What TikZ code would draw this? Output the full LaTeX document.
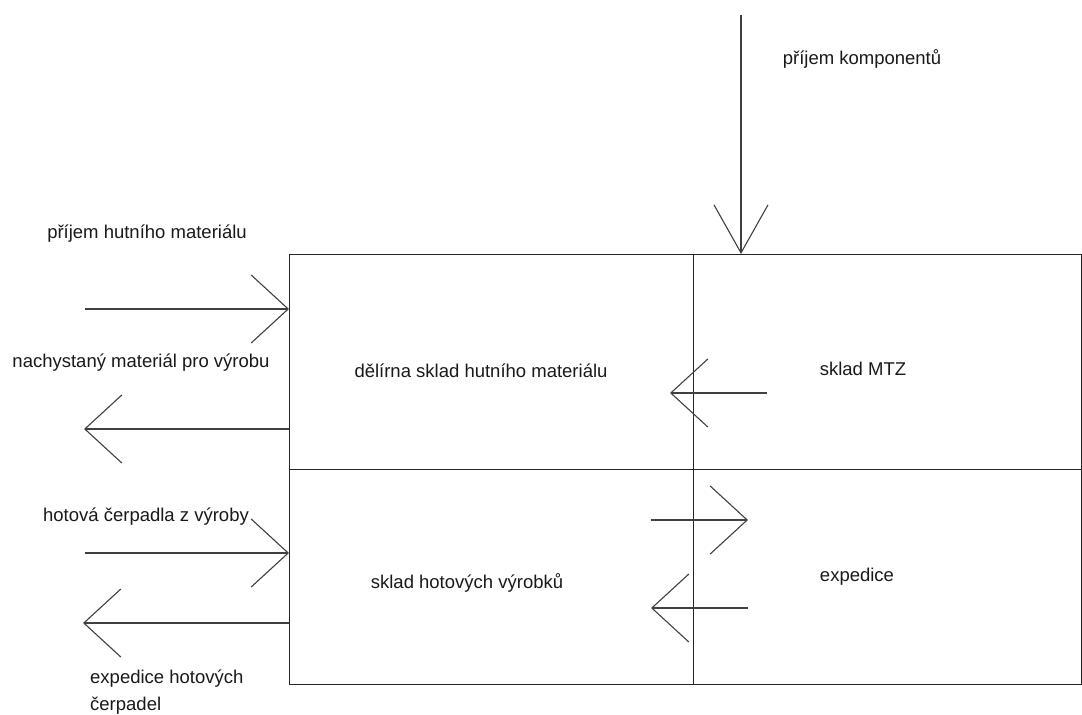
\documentclass[tikz,border=0pt]{standalone}
\usepackage{fontspec}
\setmainfont{Liberation Sans}
\usetikzlibrary{arrows.meta}
\begin{document}
\begin{tikzpicture}[x=1pt,y=-1pt,
  cell/.style={draw=black!85,line width=1.1pt,inner sep=0pt,anchor=north west},
  lbl/.style={font=\fontsize{18.5}{27}\selectfont,text=black!90,inner sep=0pt},
  arr/.style={draw=black!75,line width=1.1pt,-{Straight Barb[length=37pt,width=68pt,line width=1.1pt]}},
  arrv/.style={draw=black!75,line width=1.1pt,-{Straight Barb[length=48pt,width=54pt,line width=1.1pt]}}]
\useasboundingbox (0,0) rectangle (1082,715);
% cells
\node[cell,minimum width=404pt,minimum height=215pt] (A) at (289,254) {};
\node[cell,minimum width=388pt,minimum height=215pt] (B) at (693,254) {};
\node[cell,minimum width=404pt,minimum height=215pt] (C) at (289,469) {};
\node[cell,minimum width=388pt,minimum height=215pt] (D) at (693,469) {};
% labels
\node[lbl] (tk) at (862,59) {příjem komponentů};
\node[lbl] (th) at (147,234) {příjem hutního materiálu};
\node[lbl] (tn) at (141,363) {nachystaný materiál pro výrobu};
\node[lbl] (tA) at (481,371) {dělírna sklad hutního materiálu};
\node[lbl] (tB) at (863,369) {sklad MTZ};
\node[lbl] (tc) at (146,517) {hotová čerpadla z výroby};
\node[lbl] (tC) at (467,583) {sklad hotových výrobků};
\node[lbl] (tD) at (857,577) {expedice};
\node[lbl,align=left,anchor=north west] (te) at (90,670) {expedice hotových\\čerpadel};
% connector end points
\coordinate (k0) at (741,15);
\coordinate (h0) at (85,309);
\coordinate (n0) at (84,429);
\coordinate (c0) at (85,553);
\coordinate (e0) at (83,623);
\coordinate (m0) at (767,393);
\coordinate (m1) at (670,393);
\coordinate (x0) at (651,520);
\coordinate (x1) at (748,520);
\coordinate (y0) at (748,608);
\coordinate (y1) at (651,608);
% connectors
\draw[arrv] (k0) -- (k0 |- B.north);
\draw[arr] (h0) -- (A.west |- h0);
\draw[arr] (A.west |- n0) -- (n0);
\draw[arr] (c0) -- (C.west |- c0);
\draw[arr] (C.west |- e0) -- (e0);
\draw[arr] (m0) -- (m1);
\draw[arr] (x0) -- (x1);
\draw[arr] (y0) -- (y1);
\end{tikzpicture}
\end{document}
